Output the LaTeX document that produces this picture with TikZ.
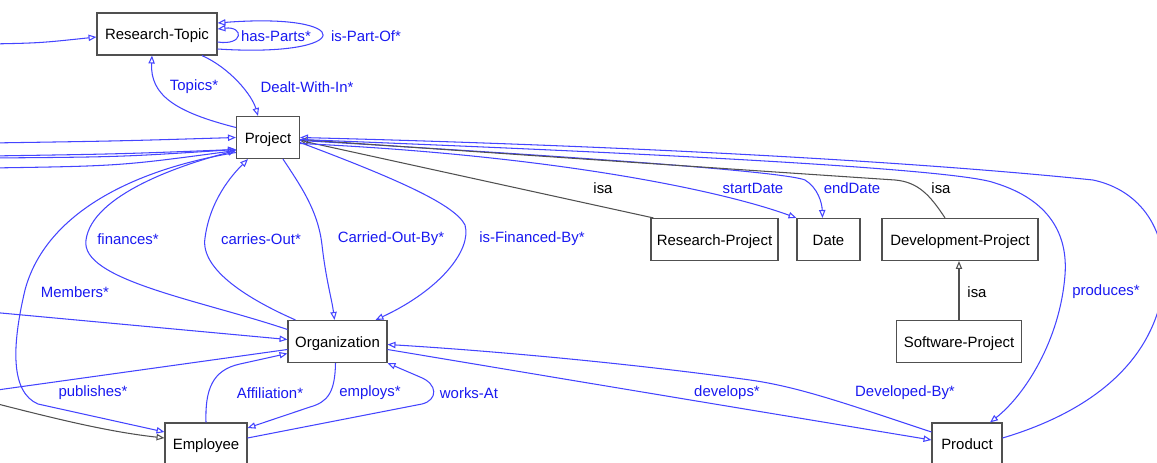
\documentclass[tikz,border=0pt]{standalone}
\usepackage{fontspec}
\setmainfont{Liberation Sans}
\usetikzlibrary{arrows.meta,calc}
\definecolor{lnblue}{RGB}{68,68,255}
\definecolor{txblue}{RGB}{25,25,240}
\definecolor{isagray}{RGB}{80,80,80}
\begin{document}
\begin{tikzpicture}[x=0.02cm,y=-0.02cm,
		cls/.style={draw=isagray,line width=0.65pt,fill=white,minimum height=0.84cm,inner sep=0pt,text height=6.8pt,text depth=0pt,font=\fontsize{8.5}{10}\selectfont},
		cut/.style={cls,minimum height=0.96cm,text depth=4pt},
		link/.style={draw=lnblue,line width=0.6pt},
		rel/.style={link,-{Triangle[open,length=4.5pt,width=3.6pt]}},
		isa/.style={draw=isagray,line width=0.6pt,-{Triangle[open,length=4.5pt,width=3.6pt]}},
		lbl/.style={text=txblue,font=\fontsize{8.5}{10}\selectfont,inner sep=1pt},
		isalbl/.style={lbl,text=black}]
			\useasboundingbox (0,0) rectangle (1157,463);
			\node[cls,minimum width=2.4cm] at (157,34) (topic) {Research-Topic};
			\node[cls,minimum width=1.26cm] at (268,137.5) (project) {Project};
			\node[cls,minimum width=2.54cm] at (714.5,239.5) (resproj) {Research-Project};
			\node[cls,minimum width=1.26cm] at (828.5,239.5) (date) {Date};
			\node[cls,minimum width=3.12cm] at (960,239.5) (devproj) {Development-Project};
			\node[cls,minimum width=2.5cm] at (959,341.5) (softproj) {Software-Project};
			\node[cls,minimum width=1.98cm] at (337.5,341.5) (org) {Organization};
			\node[cut,minimum width=1.64cm] at (206,447) (employee) {Employee};
			\node[cut,minimum width=1.4cm] at (967,447) (product) {Product};
			\coordinate (w1) at (-10,44);
			\coordinate (w2) at (-10,143);
			\coordinate (w3) at (-10,156);
			\coordinate (w4) at (-10,158);
			\coordinate (w5) at (-10,168);
			\coordinate (w6) at (-10,312);
			\coordinate (w7) at (-10,391);
			\coordinate (w8) at (-10,402);
			\draw [rel] (w1) .. controls (40,43) .. ($(topic.west)+(0,3)$);
			\draw [rel] (w2) .. controls (120,141) .. (project.west);
			\draw [rel] (w3) .. controls (120,154) .. ($(project.west)+(0,12)$);
			\draw [rel] (w4) .. controls (120,157) .. ($(project.west)+(0,12)$);
			\draw [rel] (w5) .. controls (120,166) .. ($(project.west)+(0,13)$);
			\draw [rel] ($(topic.east)+(0,8)$) .. controls (244,46) and (244,26) .. ($(topic.east)+(0,-5)$);
			\draw [rel] ($(topic.east)+(0,15)$) .. controls (357,58) and (357,12) .. ($(topic.east)+(0,-11)$);
			\draw [rel] ($(project.west)+(0,-10)$) .. controls (175,112) and (150,95) .. ($(topic.south)+(-5,0)$);
			\draw [rel] ($(topic.south)+(45,0)$) .. controls (230,68) and (252,95) .. ($(project.north)+(-10,0)$);
			\draw [rel] ($(org.west)+(0,-12)$) .. controls (200,300) and (80,280) .. (86,240) .. controls (92,195) and (180,165) .. ($(project.west)+(0,13)$);
			\draw [rel] ($(org.north west)+(8,0)$) .. controls (250,300) and (200,270) .. (205,238) .. controls (210,200) and (232,175) .. ($(project.south)+(-20,0)$);
			\draw [rel] ($(project.south)+(15,0)$) .. controls (300,185) and (318,210) .. (322,245) .. controls (326,280) and (332,300) .. ($(org.north)+(-3,0)$);
			\draw [rel] ($(project.east)+(0,5)$) .. controls (400,180) and (455,205) .. (465,225) .. controls (472,250) and (440,290) .. ($(org.north east)+(-12,0)$);
			\draw [isa] ($(resproj.north west)+(3,0)$) -- ($(project.east)+(0,3)$);
			\draw [rel] ($(project.east)+(0,6)$) .. controls (550,155) and (720,190) .. (date.north west);
			\draw [rel] ($(project.east)+(0,3)$) .. controls (600,158) and (785,172) .. (805,180) .. controls (818,188) and (822,203) .. ($(date.north)+(-6,0)$);
			\draw [isa] ($(devproj.north)+(-15,0)$) .. controls (930,195) and (918,182) .. (895,180) .. controls (700,167) and (450,150) .. ($(project.east)+(0,2)$);
			\draw [rel] ($(project.east)+(0,2)$) .. controls (700,155) and (960,170) .. (995,183) .. controls (1050,200) and (1068,235) .. (1065,275) .. controls (1060,340) and (1025,395) .. ($(product.north)+(23,0)$);
			\draw [rel] ($(product.east)+(0,-9)$) .. controls (1080,415) and (1150,370) .. (1163,290) .. controls (1170,230) and (1140,190) .. (1093,180) .. controls (900,160) and (600,145) .. (project.east);
			\draw [isa] (softproj.north) -- (softproj.north |- devproj.south);
			\draw [rel] (w6) -- ($(org.west)+(0,-2)$);
			\draw [link] ($(org.west)+(0,8)$) -- (w7);
			\draw [rel] (employee.north) .. controls (205,390) and (212,370) .. (240,364) -- ($(org.west)+(0,12)$);
			\draw [rel] ($(org.south)+(-2,0)$) .. controls (335,392) and (328,402) .. (310,407) -- ($(employee.east)+(0,-19)$);
			\draw [rel] ($(employee.east)+(0,-9)$) -- (422,404) .. controls (438,400) and (438,384) .. (420,377) -- (org.south east);
			\draw [rel] ($(org.east)+(0,8)$) .. controls (600,385) .. ($(product.west)+(0,-7)$);
			\draw [rel] ($(product.west)+(0,-15)$) .. controls (850,405) and (800,387) .. (750,380) .. controls (620,362) and (480,350) .. ($(org.east)+(0,3)$);
			\draw [rel] ($(project.west)+(0,15)$) .. controls (130,170) and (45,215) .. (25,290) .. controls (12,345) and (10,392) .. (38,404) -- ($(employee.west)+(0,-15)$);
			\draw [isa] (w8) .. controls (60,420) and (110,432) .. ($(employee.west)+(0,-9)$);
			\node[lbl] at (276,36) (l1) {has-Parts*};
			\node[lbl] at (366,36) (l2) {is-Part-Of*};
			\node[lbl] at (194,87) (l3) {Topics*};
			\node[lbl] at (307,87) (l4) {Dealt-With-In*};
			\node[lbl] at (128,239) (l5) {finances*};
			\node[lbl] at (261,239) (l6) {carries-Out*};
			\node[lbl] at (391,239) (l7) {Carried-Out-By*};
			\node[lbl] at (532,239) (l8) {is-Financed-By*};
			\node[isalbl] at (603,188) (l9) {isa};
			\node[lbl] at (753,188) (l10) {startDate};
			\node[lbl] at (852,188) (l11) {endDate};
			\node[isalbl] at (941,188) (l12) {isa};
			\node[isalbl] at (977,292) (l13) {isa};
			\node[lbl] at (1106,292) (l14) {produces*};
			\node[lbl] at (75,292) (l15) {Members*};
			\node[lbl] at (93,393) (l16) {publishes*};
			\node[lbl] at (270,393) (l17) {Affiliation*};
			\node[lbl] at (370,393) (l18) {employs*};
			\node[lbl] at (469,393) (l19) {works-At};
			\node[lbl] at (727,393) (l20) {develops*};
			\node[lbl] at (905,393) (l21) {Developed-By*};
		\end{tikzpicture}
\end{document}
